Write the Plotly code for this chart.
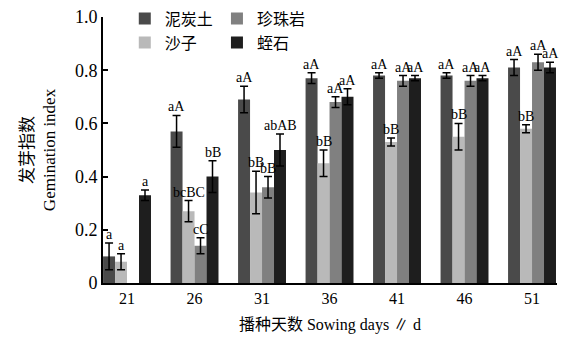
import plotly.graph_objects as go

days = ["21", "26", "31", "36", "41", "46", "51"]
series_names = ["泥炭土", "沙子", "珍珠岩", "蛭石"]
peat = [0.10, 0.57, 0.69, 0.77, 0.78, 0.78, 0.81]
sand = [0.08, 0.27, 0.34, 0.45, 0.53, 0.55, 0.58]
perlite = [None, 0.14, 0.36, 0.68, 0.76, 0.76, 0.83]
vermic = [0.33, 0.40, 0.50, 0.70, 0.77, 0.77, 0.81]
peat_err = [0.05, 0.06, 0.05, 0.02, 0.01, 0.01, 0.03]
sand_err = [0.03, 0.04, 0.08, 0.05, 0.015, 0.05, 0.015]
perlite_err = [0, 0.03, 0.04, 0.02, 0.02, 0.02, 0.03]
vermic_err = [0.02, 0.06, 0.06, 0.03, 0.01, 0.01, 0.02]
peat_lab = ["a", "aA", "aA", "aA", "aA", "aA", "aA"]
sand_lab = ["a", "bcBC", "bB", "bB", "bB", "bB", "bB"]
perlite_lab = ["", "cC", "bB", "aA", "aA", "aA", "aA"]
vermic_lab = ["a", "bB", "abAB", "aA", "aA", "aA", "aA"]
y_ticks = [0, 0.2, 0.4, 0.6, 0.8, 1.0]
y_ticktext = ["0", "0.2", "0.4", "0.6", "0.8", "1.0"]

colors = ["#4a4a4a", "#b9b9b9", "#808080", "#1e1e1e"]
values = [peat, sand, perlite, vermic]
errs = [peat_err, sand_err, perlite_err, vermic_err]
labs = [peat_lab, sand_lab, perlite_lab, vermic_lab]
legends = ["legend", "legend", "legend2", "legend2"]

FONT = "Liberation Serif, Noto Sans CJK SC"
xs = list(range(len(days)))
bargap = 0.29
w = (1 - bargap) / 4

fig = go.Figure()
for k in range(4):
    fig.add_trace(go.Bar(
        x=xs, y=values[k], name=series_names[k],
        marker=dict(color=colors[k], line=dict(width=0)),
        error_y=dict(type="data", array=errs[k], color="black", thickness=1.5, width=4),
        legend=legends[k],
    ))
    off = (k - 1.5) * w
    for i in xs:
        v = values[k][i]
        if v is None or not labs[k][i]:
            continue
        fig.add_annotation(x=i + off, y=v + errs[k][i], text=labs[k][i], showarrow=False,
                           yanchor="bottom", xanchor="center", yshift=-1,
                           font=dict(family=FONT, size=14, color="black"))

leg_common = dict(yref="container", y=0.995, xanchor="left", yanchor="top",
                  bgcolor="rgba(0,0,0,0)", font=dict(size=16, family=FONT),
                  tracegroupgap=0, itemwidth=30)
fig.update_layout(
    width=569, height=342,
    margin=dict(l=103, r=12, t=17, b=59, autoexpand=False),
    paper_bgcolor="white", plot_bgcolor="white",
    barmode="group", bargap=bargap, bargroupgap=0,
    font=dict(family=FONT, color="black"),
    legend=dict(x=0.048, **leg_common),
    legend2=dict(x=0.251, **leg_common),
    xaxis=dict(
        range=[-0.356, 6.37], tickvals=xs, ticktext=days,
        showline=True, linecolor="black", linewidth=2, ticks="", showgrid=False, zeroline=False,
        tickfont=dict(size=16, family=FONT),
        title=dict(text="播种天数 Sowing days ∥ d", font=dict(size=16, family=FONT), standoff=13),
    ),
    yaxis=dict(
        range=[0, 1.0], tickvals=y_ticks, ticktext=y_ticktext,
        showline=True, linecolor="black", linewidth=2, ticks="inside", ticklen=5,
        tickcolor="black", tickwidth=2, showgrid=False, zeroline=False,
        tickfont=dict(size=18, family=FONT),
        title=dict(text="发芽指数<br>Gemination index", font=dict(size=17, family=FONT), standoff=15),
    ),
)
fig.write_html("out.html", config={"displayModeBar": False},
               post_script="document.body.style.margin='0px';document.body.style.overflow='hidden';")
